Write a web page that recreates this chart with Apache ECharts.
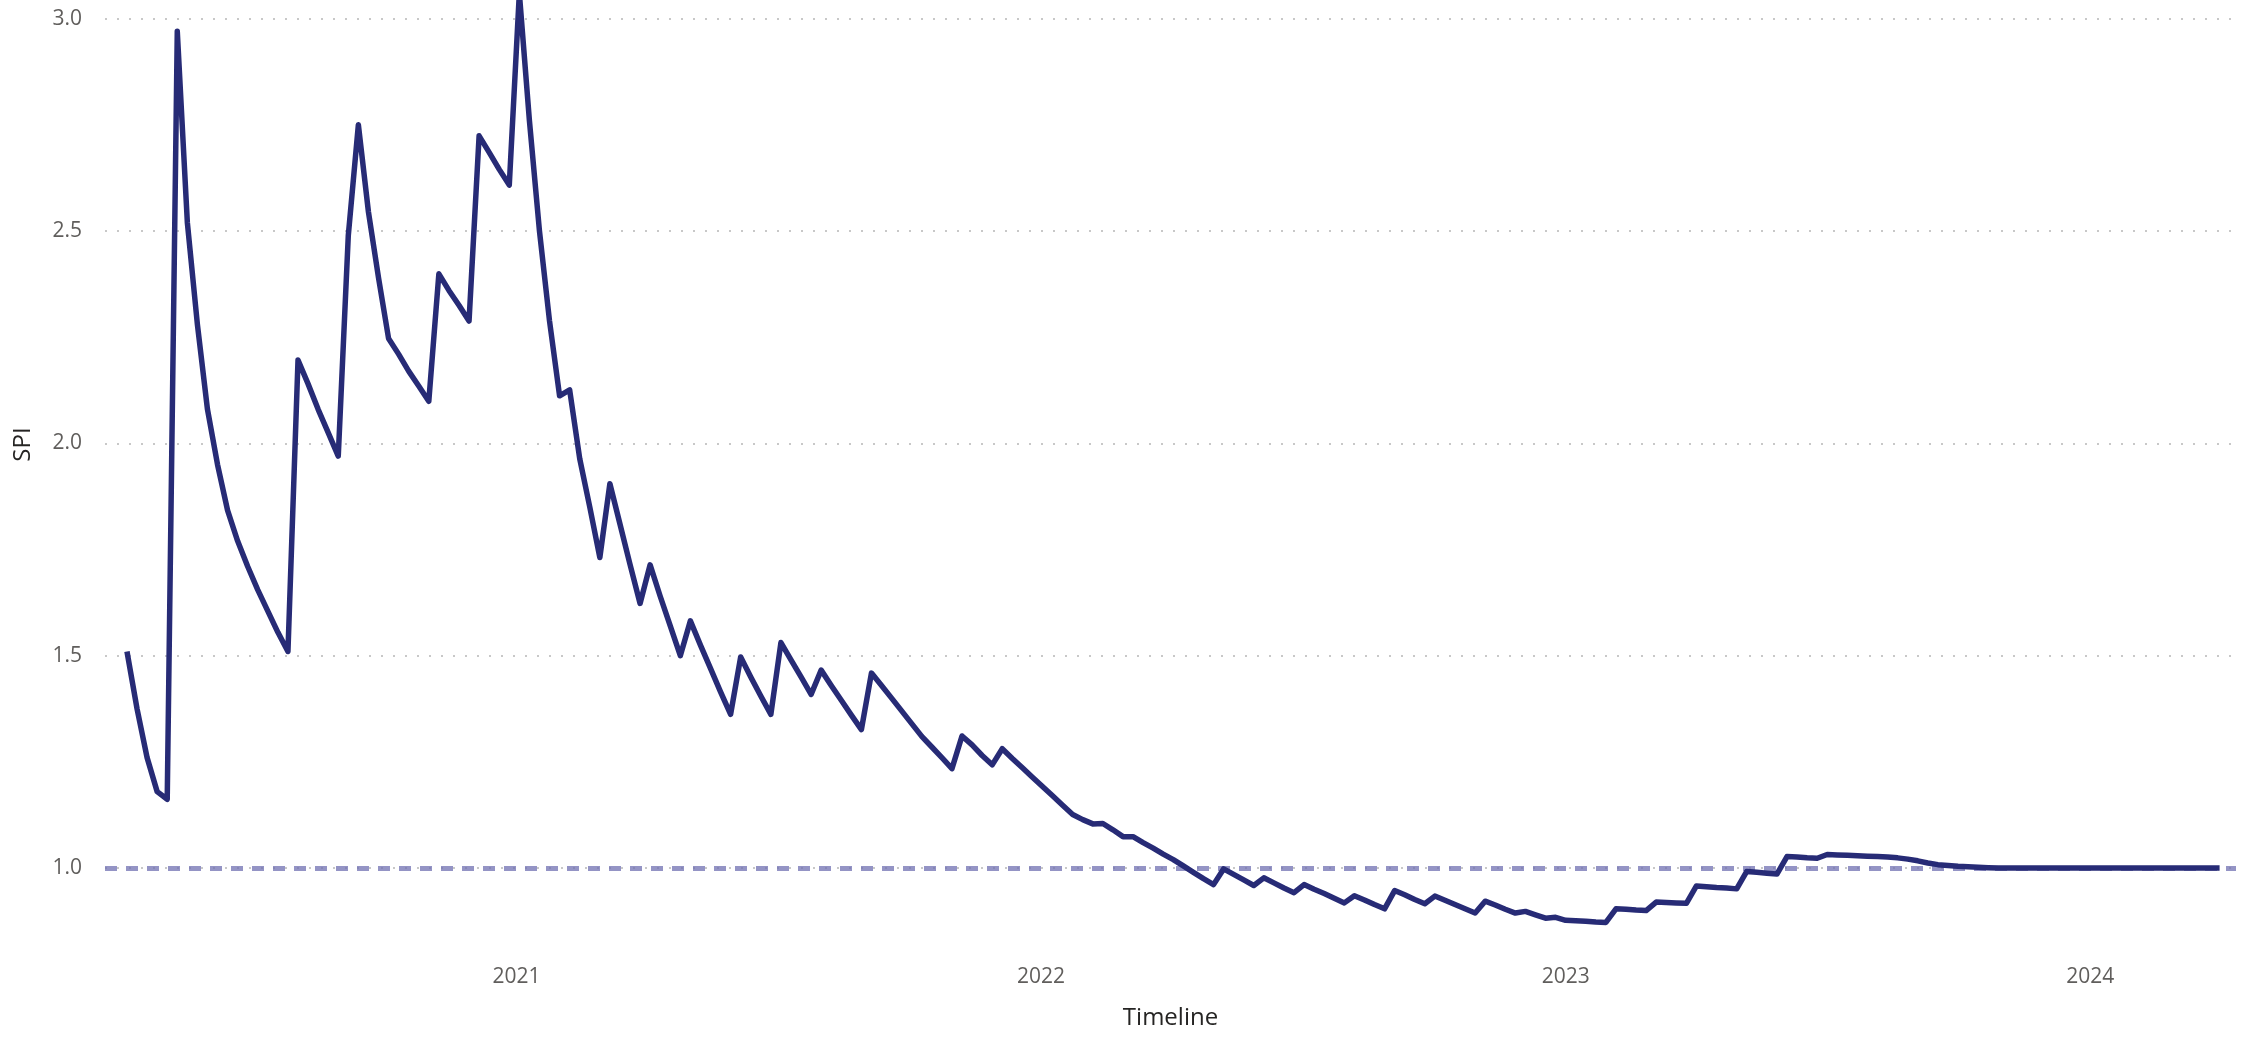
<!DOCTYPE html>
<html>
<head>
<meta charset="utf-8">
<script src="https://cdn.jsdelivr.net/npm/echarts@6/dist/echarts.min.js"></script>
<style>
html,body{margin:0;padding:0;background:#ffffff;}
#chart{width:2246px;height:1040px;}
</style>
</head>
<body>
<div id="chart"></div>
<script>
// Weekly SPI values (weeks ending Sunday), first week 2020-04-05
const firstWeek = [2020, 3, 5];
const spi2020 = [1.51,1.375,1.26,1.18,1.162,2.97,2.52,2.28,2.08,1.95,1.842,1.77,1.71,1.655,1.605,1.555,1.51,
  2.196,2.14,2.08,2.025,1.97,2.49,2.75,2.545,2.39,2.247,2.21,2.17,2.135,2.099,2.399,2.36,2.325,2.288,
  2.724,2.685,2.645,2.608];
const spi2021 = [3.06,2.76,2.50,2.288,2.112,2.126,1.964,1.85,1.731,1.905,1.81,1.715,1.623,1.714,1.64,1.57,1.50,
  1.582,1.525,1.47,1.415,1.362,1.497,1.45,1.405,1.362,1.531,1.49,1.45,1.409,1.466,1.43,1.395,1.36,1.326,
  1.459,1.43,1.40,1.37,1.34,1.31,1.285,1.26,1.234,1.311,1.29,1.265,1.243,1.281,1.258,1.236,1.214];
const spi2022 = [1.192,1.17,1.148,1.126,1.114,1.104,1.105,1.09,1.074,1.074,1.06,1.047,1.033,1.02,1.005,0.99,
  0.975,0.961,0.998,0.985,0.972,0.959,0.977,0.965,0.953,0.942,0.961,0.95,0.94,0.929,0.918,0.935,0.925,
  0.914,0.904,0.947,0.937,0.926,0.916,0.934,0.924,0.914,0.904,0.894,0.922,0.913,0.903,0.894,0.898,0.89,
  0.882,0.884];
const spi2023 = [0.877,0.876,0.875,0.873,0.872,0.904,0.903,0.901,0.90,0.92,0.919,0.918,0.917,0.958,0.956,
  0.954,0.953,0.951,0.992,0.99,0.988,0.986,1.027,1.026,1.024,1.023,1.032,1.031,1.03,1.029,1.028,1.027,
  1.026,1.024,1.021,1.017,1.012,1.008,1.006,1.004,1.003,1.002,1.001,1.0,1.0,1.0,1.0,1.0,1.0,1.0,1.0,1.0];
const spi2024 = [1.0,1.0,1.0,1.0,1.0,1.0,1.0,1.0,1.0,1.0,1.0,1.0,1.0,1.0];

const yTicks = [1.0, 1.5, 2.0, 2.5, 3.0];
const yearTicks = [2021, 2022, 2023, 2024];
const targetSPI = 1.0;

const values = spi2020.concat(spi2021, spi2022, spi2023, spi2024);
const seriesData = values.map((v, i) =>
  [new Date(firstWeek[0], firstWeek[1], firstWeek[2] + 7 * i).getTime(), v]);

const FONT = "'Open Sans', 'Noto Sans', sans-serif";
const chart = echarts.init(document.getElementById('chart'), null, {renderer: 'canvas'});
chart.setOption({
  animation: false,
  backgroundColor: '#ffffff',
  grid: {left: 105, right: 10, top: 0, bottom: 87, containLabel: false},
  xAxis: {
    type: 'value',
    min: new Date(2020, 2, 20, 17).getTime(),
    max: new Date(2024, 3, 11, 10).getTime(),
    axisLine: {show: false},
    axisTick: {show: false},
    splitLine: {show: false},
    axisLabel: {
      customValues: yearTicks.map(y => new Date(y, 0, 1).getTime()),
      formatter: v => String(new Date(v).getFullYear()),
      color: '#605e5c', fontSize: 21, fontFamily: FONT, margin: 14
    },
    name: 'Timeline',
    nameLocation: 'middle',
    nameGap: 53,
    nameTextStyle: {color: '#252423', fontSize: 24, fontFamily: FONT, fontWeight: 500}
  },
  yAxis: {
    type: 'value',
    min: 0.8,
    max: 3.0438,
    axisLine: {show: false},
    axisTick: {show: false, customValues: yTicks},
    axisLabel: {
      customValues: yTicks,
      formatter: v => v.toFixed(1),
      color: '#605e5c', fontSize: 21, fontFamily: FONT, margin: 23
    },
    splitLine: {show: true, lineStyle: {type: [2, 10], color: '#c8c8c8', width: 2}},
    name: 'SPI',
    nameLocation: 'middle',
    nameGap: 70,
    nameRotate: 90,
    nameTextStyle: {color: '#252423', fontSize: 24, fontFamily: FONT, fontWeight: 500, padding: [0, 0, 0, 64]}
  },
  series: [{
    type: 'line',
    name: 'SPI',
    data: seriesData,
    symbol: 'none',
    showSymbol: false,
    clip: true,
    z: 3,
    lineStyle: {color: '#272b76', width: 5.5, join: 'round'},
    markLine: {
      silent: true,
      z: 1,
      symbol: 'none',
      label: {show: false},
      lineStyle: {type: [12, 9], color: 'rgba(112,112,178,0.75)', width: 5},
      data: [{yAxis: targetSPI}]
    }
  }]
});
</script>
</body>
</html>
